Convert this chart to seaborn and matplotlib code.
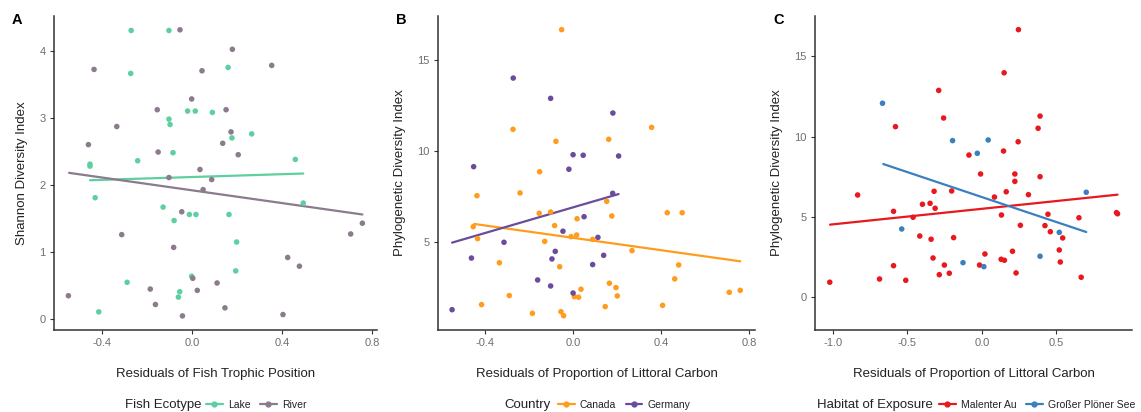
import matplotlib
matplotlib.use("Agg")
import matplotlib.pyplot as plt
from matplotlib.lines import Line2D
import numpy as np
import pandas as pd
import seaborn as sns

sns.set_theme(style="ticks")
plt.rcParams["font.family"] = ["Liberation Sans", "DejaVu Sans"]

# ---- Panel A: Shannon diversity vs fish trophic position residuals ----
lake_x = [-0.272, -0.104, -0.274, 0.159, -0.021, 0.013, 0.089, -0.104, -0.099, 0.176,
          0.264, -0.086, -0.243, -0.455, -0.455, 0.458, -0.432, -0.130, -0.081, -0.013,
          0.016, 0.163, 0.197, 0.193, -0.003, -0.290, -0.056, -0.062, -0.416, 0.493]
lake_y = [4.30, 4.30, 3.66, 3.75, 3.10, 3.10, 3.08, 2.98, 2.90, 2.70,
          2.76, 2.48, 2.36, 2.31, 2.28, 2.38, 1.81, 1.67, 1.47, 1.56,
          1.56, 1.56, 1.15, 0.72, 0.64, 0.55, 0.41, 0.33, 0.11, 1.73]
river_x = [-0.055, 0.178, -0.437, 0.043, 0.353, -0.003, -0.156, 0.150, -0.336, 0.172,
           -0.462, 0.135, -0.152, 0.204, 0.034, -0.104, 0.086, 0.048, -0.047, -0.314,
           -0.083, 0.756, 0.704, 0.424, 0.476, 0.002, 0.022, 0.110, -0.187, -0.164,
           0.145, -0.044, 0.403, -0.551]
river_y = [4.31, 4.02, 3.72, 3.70, 3.78, 3.28, 3.12, 3.12, 2.87, 2.79,
           2.60, 2.62, 2.49, 2.45, 2.23, 2.11, 2.08, 1.93, 1.60, 1.26,
           1.07, 1.43, 1.27, 0.92, 0.79, 0.61, 0.43, 0.54, 0.45, 0.22,
           0.17, 0.05, 0.07, 0.35]
# fitted linear trends (start/end points)
lake_fit_x, lake_fit_y = [-0.455, 0.493], [2.07, 2.17]
river_fit_x, river_fit_y = [-0.548, 0.756], [2.18, 1.56]

# ---- Panel B: phylogenetic diversity by country ----
canada_x = [-0.053, -0.274, -0.079, 0.161, 0.356, -0.153, -0.438, -0.242, 0.152, -0.155,
            -0.103, 0.017, 0.175, 0.427, 0.495, -0.085, -0.455, -0.435, -0.010, 0.015,
            -0.130, 0.088, 0.267, -0.336, -0.062, 0.479, 0.461, 0.164, 0.194, 0.035,
            0.709, 0.759, -0.291, 0.005, 0.024, 0.200, -0.417, 0.145, 0.406, -0.186,
            -0.056, -0.044]
canada_y = [16.70, 11.20, 10.54, 10.65, 11.31, 8.86, 7.54, 7.69, 7.23, 6.57,
            6.64, 6.27, 6.42, 6.60, 6.60, 5.89, 5.83, 5.17, 5.28, 5.37,
            5.02, 5.13, 4.51, 3.84, 3.62, 3.72, 2.95, 2.71, 2.47, 2.38,
            2.21, 2.32, 2.03, 1.97, 1.94, 2.01, 1.53, 1.42, 1.49, 1.05,
            1.14, 0.92]
germany_x = [-0.273, -0.103, 0.180, -0.001, 0.045, 0.206, -0.453, -0.020, 0.179, 0.049,
             -0.047, 0.112, -0.315, -0.082, -0.463, -0.097, 0.138, 0.088, -0.162, -0.103,
             -0.001, -0.551]
germany_y = [14.03, 12.91, 12.10, 9.80, 9.77, 9.73, 9.14, 9.00, 7.67, 6.38,
             5.58, 5.24, 4.97, 4.47, 4.10, 4.05, 4.25, 3.74, 2.89, 2.56,
             2.17, 1.25]
canada_fit_x, canada_fit_y = [-0.450, 0.759], [5.98, 3.92]
germany_fit_x, germany_fit_y = [-0.551, 0.206], [4.95, 7.63]

# ---- Panel C: phylogenetic diversity by habitat of exposure ----
malenter_x = [0.245, 0.149, -0.290, -0.257, 0.390, 0.377, -0.580, 0.243, 0.145, -0.087,
              -0.009, 0.221, 0.221, 0.390, -0.834, -0.321, -0.203, 0.163, 0.312, 0.084,
              -0.593, -0.399, -0.348, -0.314, -0.462, 0.131, 0.443, 0.651, 0.903, 0.910,
              0.258, 0.423, 0.459, 0.542, -0.417, -0.341, -0.190, 0.020, 0.205, 0.519,
              -0.328, 0.129, 0.151, 0.526, -0.593, -0.252, -0.016, 0.229, -0.219, -0.286,
              0.666, -0.687, -0.511, -1.021]
malenter_y = [16.67, 13.98, 12.88, 11.16, 11.28, 10.52, 10.62, 9.68, 9.10, 8.85,
              7.67, 7.67, 7.21, 7.50, 6.36, 6.59, 6.61, 6.56, 6.38, 6.23,
              5.34, 5.78, 5.84, 5.53, 4.97, 5.11, 5.16, 4.94, 5.26, 5.19,
              4.47, 4.45, 4.07, 3.68, 3.80, 3.60, 3.70, 2.68, 2.85, 2.93,
              2.43, 2.35, 2.29, 2.18, 1.95, 1.99, 1.99, 1.50, 1.48, 1.39,
              1.23, 1.12, 1.04, 0.92]
ploener_x = [-0.667, -0.197, 0.042, -0.031, 0.700, -0.538, 0.519, 0.390, -0.127, 0.013]
ploener_y = [12.08, 9.75, 9.79, 8.96, 6.53, 4.24, 4.03, 2.54, 2.14, 1.89]
malenter_fit_x, malenter_fit_y = [-1.019, 0.910], [4.51, 6.38]
ploener_fit_x, ploener_fit_y = [-0.662, 0.700], [8.29, 4.05]


def frame(groups):
    parts = [pd.DataFrame({"x": gx, "y": gy, "g": name}) for name, gx, gy in groups]
    return pd.concat(parts, ignore_index=True)


W, H = 1141, 412
fig = plt.figure(figsize=(W / 100, H / 100), dpi=100)

panels = [
    dict(letter="A", left=54, right=377,
         pts=[("Lake", lake_x, lake_y), ("River", river_x, river_y)],
         fits=[("Lake", lake_fit_x, lake_fit_y), ("River", river_fit_x, river_fit_y)],
         palette={"Lake": "#5FCFA0", "River": "#8B7B8C"},
         xlim=(-0.615, 0.821), ylim=(-0.16, 4.52),
         xticks=[-0.4, 0.0, 0.4, 0.8], yticks=[0, 1, 2, 3, 4],
         xlabel="Residuals of Fish Trophic Position",
         ylabel="Shannon Diversity Index",
         legend_title="Fish Ecotype", title_x=125, entries_x=206),
    dict(letter="B", left=438, right=755,
         pts=[("Canada", canada_x, canada_y), ("Germany", germany_x, germany_y)],
         fits=[("Canada", canada_fit_x, canada_fit_y), ("Germany", germany_fit_x, germany_fit_y)],
         palette={"Canada": "#FF9C1E", "Germany": "#6A4C9C"},
         xlim=(-0.615, 0.826), ylim=(0.13, 17.47),
         xticks=[-0.4, 0.0, 0.4, 0.8], yticks=[5, 10, 15],
         xlabel="Residuals of Proportion of Littoral Carbon",
         ylabel="Phylogenetic Diversity Index",
         legend_title="Country", title_x=504, entries_x=558),
    dict(letter="C", left=815, right=1132,
         pts=[("Malenter Au", malenter_x, malenter_y), ("Großer Plöner See", ploener_x, ploener_y)],
         fits=[("Malenter Au", malenter_fit_x, malenter_fit_y),
               ("Großer Plöner See", ploener_fit_x, ploener_fit_y)],
         palette={"Malenter Au": "#E8191E", "Großer Plöner See": "#3A80C0"},
         xlim=(-1.12, 1.007), ylim=(-2.06, 17.54),
         xticks=[-1.0, -0.5, 0.0, 0.5], yticks=[0, 5, 10, 15],
         xlabel="Residuals of Proportion of Littoral Carbon",
         ylabel="Phylogenetic Diversity Index",
         legend_title="Habitat of Exposure", title_x=817, entries_x=939),
]

top_px, bottom_px = 15.7, 330
legend_y = 1 - 405 / H

for p in panels:
    ax = fig.add_axes([p["left"] / W, (H - bottom_px) / H,
                       (p["right"] - p["left"]) / W, (bottom_px - top_px) / H])
    pts = frame(p["pts"])
    fits = frame(p["fits"])
    sns.scatterplot(data=pts, x="x", y="y", hue="g", palette=p["palette"],
                    s=16, linewidth=0, legend=False, ax=ax, zorder=3)
    sns.lineplot(data=fits, x="x", y="y", hue="g", palette=p["palette"],
                 linewidth=1.6, legend=False, ax=ax, zorder=2)
    ax.set_xlim(*p["xlim"])
    ax.set_ylim(*p["ylim"])
    ax.set_xticks(p["xticks"])
    ax.set_xticklabels([f"{v:.1f}" for v in p["xticks"]])
    ax.set_yticks(p["yticks"])
    ax.set_yticklabels([str(v) for v in p["yticks"]])
    sns.despine(ax=ax)
    for side in ("left", "bottom"):
        ax.spines[side].set_color("#333333")
        ax.spines[side].set_linewidth(1.1)
    ax.tick_params(axis="both", colors="#333333", labelcolor="#6E6E6E",
                   labelsize=8, length=3, width=0.8, pad=3)
    ax.set_xlabel(p["xlabel"], fontsize=9.5, color="#222222", labelpad=14)
    ax.set_ylabel(p["ylabel"], fontsize=9.5, color="#222222", labelpad=8)

    fig.text((p["left"] - 42) / W, 1 - 20 / H, p["letter"], fontsize=10.5,
             fontweight="bold", va="center", ha="left", color="black")

    fig.text(p["title_x"] / W, legend_y, p["legend_title"], fontsize=9.5,
             va="center", ha="left", color="#222222")
    handles = [Line2D([], [], color=c, lw=1.6, marker="o", ms=3.5)
               for c in p["palette"].values()]
    fig.legend(handles, list(p["palette"].keys()), loc="center left",
               bbox_to_anchor=(p["entries_x"] / W, legend_y), ncol=len(handles),
               frameon=False, fontsize=7.5, handlelength=1.6, handletextpad=0.5,
               columnspacing=0.9, borderpad=0, borderaxespad=0,
               labelcolor="#222222")

fig.savefig("out.png", dpi=100, facecolor="white")
